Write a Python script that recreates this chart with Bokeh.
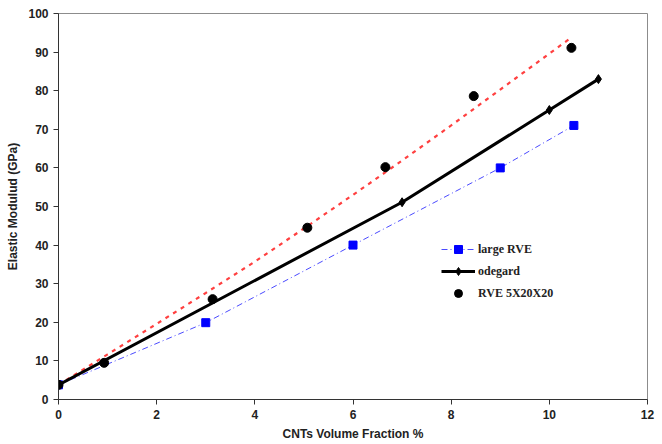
from bokeh.plotting import figure
from bokeh.models import Range1d, Legend, LegendItem, FixedTicker
from bokeh.embed import file_html
from bokeh.resources import INLINE

# Data
large_x = [0, 3, 6, 9, 10.5]
large_y = [3.8, 19.9, 40.0, 60.0, 71.0]

odegard_x = [0, 7, 10, 11]
odegard_y = [3.8, 51.1, 75.0, 83.0]

rve_x = [0, 0.93, 3.14, 5.07, 6.66, 8.46, 10.45]
rve_y = [3.8, 9.5, 26.0, 44.5, 60.2, 78.6, 91.1]

fit_x = [0, 1, 2, 3, 4, 5, 6, 7, 8, 9, 10, 10.45]
fit_y = [3.8, 11.7, 19.6, 27.6, 35.7, 44.3, 53.0, 61.9, 71.0, 80.3, 89.6, 93.8]

x_ticks = [0, 2, 4, 6, 8, 10, 12]
y_ticks = [0, 10, 20, 30, 40, 50, 60, 70, 80, 90, 100]

p = figure(width=662, height=444, x_range=Range1d(0, 12), y_range=Range1d(0, 100),
           output_backend="svg", toolbar_location=None,
           min_border_left=58, min_border_right=15, min_border_top=13, min_border_bottom=45)

p.xgrid.visible = False
p.ygrid.visible = False
p.outline_line_color = "#8c8c8c"
p.outline_line_width = 1

for ax in (p.xaxis[0], p.yaxis[0]):
    ax.axis_line_color = "#333333"
    ax.major_tick_line_color = "#333333"
    ax.minor_tick_line_color = None
    ax.major_tick_out = 5
    ax.major_tick_in = 0
    ax.major_label_text_font = "Liberation Sans"
    ax.major_label_text_font_style = "bold"
    ax.major_label_text_font_size = "12px"
    ax.major_label_text_color = "#222222"
    ax.axis_label_text_font = "Liberation Sans"
    ax.axis_label_text_font_style = "bold"
    ax.axis_label_text_font_size = "12px"
    ax.axis_label_text_color = "#222222"

p.xaxis[0].ticker = FixedTicker(ticks=x_ticks)
p.yaxis[0].ticker = FixedTicker(ticks=y_ticks)
p.xaxis[0].axis_label = "CNTs Volume Fraction %"
p.yaxis[0].axis_label = "Elastic Modulud (GPa)"
p.xaxis[0].major_label_standoff = 5
p.yaxis[0].major_label_standoff = 5
p.xaxis[0].axis_label_standoff = 5
p.yaxis[0].axis_label_standoff = 5

# red dashed line
p.line(fit_x, fit_y, line_color="#ff4040", line_width=2.2, line_dash="4 5")

# large RVE
l1 = p.line(large_x, large_y, line_color="#4a4aff", line_width=1, line_dash="6 3 1 3")
m1 = p.scatter(large_x, large_y, marker="square", size=8, fill_color="#0000ff", line_color="#0000ff")

# odegard
l2 = p.line(odegard_x, odegard_y, line_color="black", line_width=3)
m2 = p.scatter(odegard_x, odegard_y, marker="diamond", size=9, fill_color="black", line_color="black")

# RVE 5X20X20
m3 = p.scatter(rve_x, rve_y, marker="circle", size=9, fill_color="black", line_color="black")

legend = Legend(items=[
    LegendItem(label="large RVE", renderers=[l1, m1]),
    LegendItem(label="odegard", renderers=[l2, m2]),
    LegendItem(label="RVE 5X20X20", renderers=[m3]),
], location=(383, 96))
legend.border_line_color = None
legend.background_fill_alpha = 0
legend.padding = 0
legend.margin = 0
legend.spacing = 2
legend.glyph_width = 34
legend.glyph_height = 20
legend.label_height = 20
legend.label_standoff = 3
legend.label_text_font = "Liberation Serif"
legend.label_text_font_style = "bold"
legend.label_text_font_size = "12px"
legend.label_text_color = "#222222"
p.add_layout(legend, "center")

open("out.html", "w").write(file_html(p, INLINE))
